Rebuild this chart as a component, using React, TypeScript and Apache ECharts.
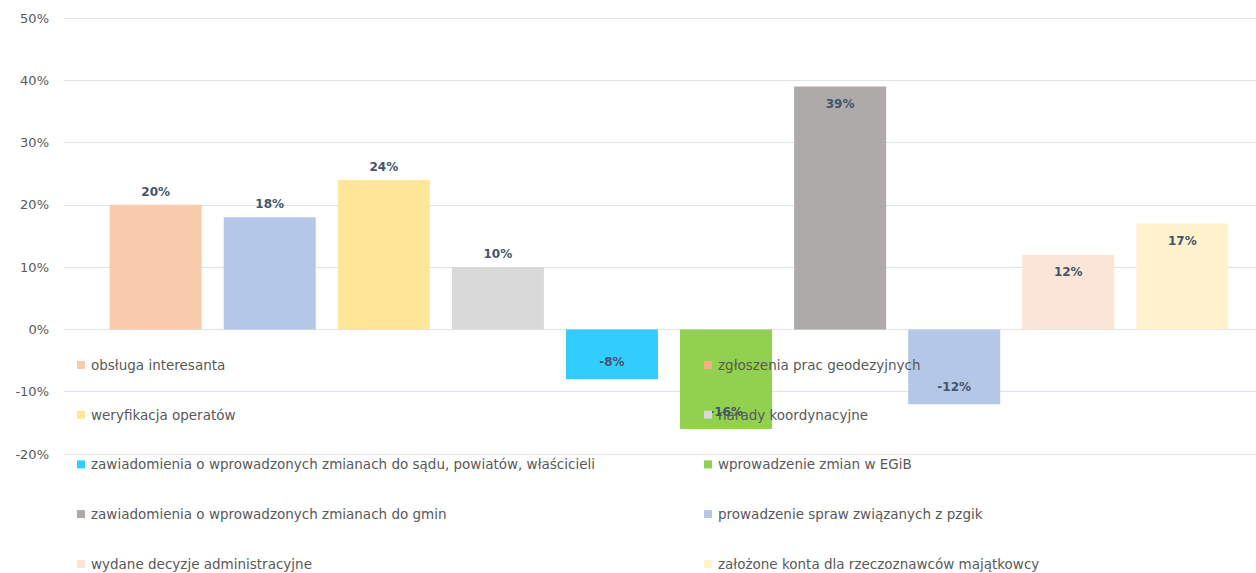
import React, { useEffect, useRef } from "react";
import * as echarts from "echarts";

const seriesNames = [
  "obsługa interesanta",
  "zgłoszenia prac geodezyjnych",
  "weryfikacja operatów",
  "narady koordynacyjne",
  "zawiadomienia o wprowadzonych zmianach do sądu, powiatów, właścicieli",
  "wprowadzenie zmian w EGiB",
  "zawiadomienia o wprowadzonych zmianach do gmin",
  "prowadzenie spraw związanych z pzgik",
  "wydane decyzje administracyjne",
  "założone konta dla rzeczoznawców majątkowcy",
];
const values = [20, 18, 24, 10, -8, -16, 39, -12, 12, 17];
const legendColors = [
  "#f8cbad", "#f4b183", "#ffe699", "#d9d9d9", "#33ccff",
  "#92d050", "#aeaaaa", "#b4c7e7", "#fbe5d6", "#fff2cc",
];
const barColors = [
  "#f8cbad", "#b4c7e7", "#ffe699", "#d9d9d9", "#33ccff",
  "#92d050", "#aeaaaa", "#b4c7e7", "#fbe5d6", "#fff2cc",
];
const labelPlacement = [
  "top", "top", "top", "top", "insideBottom",
  "insideBottom", "insideTop", "insideBottom", "insideTop", "insideTop",
];
const yTicks = { min: -20, max: 50, interval: 10 };

const FONT = "'DejaVu Sans', sans-serif";

export default function App() {
  const ref = useRef<HTMLDivElement>(null);
  useEffect(() => {
    const chart = echarts.init(ref.current!, null, { renderer: "svg" });
    const series = seriesNames.map((name, i) => ({
      name,
      type: "bar",
      xAxisIndex: 1,
      yAxisIndex: 1,
      barWidth: 92,
      barGap: "24%",
      itemStyle: { color: legendColors[i] },
      label: {
        show: true,
        position: labelPlacement[i],
        distance: labelPlacement[i] === "top" ? 7 : 11,
        formatter: "{c}%",
        color: "#44546a",
        fontFamily: FONT,
        fontWeight: "bold",
        fontSize: 12,
      },
      data: [{ value: values[i], itemStyle: { color: barColors[i] } }],
    }));
    const leftNames = seriesNames.filter((_, i) => i % 2 === 0);
    const rightNames = seriesNames.filter((_, i) => i % 2 === 1);
    const legendBase = {
      orient: "vertical",
      top: 358,
      padding: 0,
      itemWidth: 8,
      itemHeight: 8,
      itemGap: 35.7,
      icon: "rect",
      selectedMode: false,
      textStyle: {
        color: "#595959",
        fontFamily: FONT,
        fontSize: 13.5,
        lineHeight: 14,
        padding: [0, 0, 0, 1],
      },
    };
    const hiddenX = {
      type: "category",
      data: [""],
      axisLine: { show: false },
      axisTick: { show: false },
      axisLabel: { show: false },
    };
    chart.setOption({
      animation: false,
      grid: [
        { left: 64, right: 0, top: 18, bottom: 119, containLabel: false },
        { left: 82, right: 0, top: 18, bottom: 119, containLabel: false },
      ],
      legend: [
        { ...legendBase, left: 77, data: leftNames },
        { ...legendBase, left: 704, data: rightNames },
      ],
      xAxis: [
        { ...hiddenX, gridIndex: 0 },
        { ...hiddenX, gridIndex: 1 },
      ],
      yAxis: [
        {
          type: "value",
          gridIndex: 0,
          min: yTicks.min,
          max: yTicks.max,
          interval: yTicks.interval,
          axisLine: { show: false },
          axisTick: { show: false },
          axisLabel: {
            formatter: "{value}%",
            color: "#595959",
            fontFamily: FONT,
            fontSize: 13,
            margin: 15,
          },
          splitLine: { lineStyle: { color: "#dde3ea", width: 1 } },
        },
        {
          type: "value",
          gridIndex: 1,
          min: yTicks.min,
          max: yTicks.max,
          interval: yTicks.interval,
          axisLine: { show: false },
          axisTick: { show: false },
          axisLabel: { show: false },
          splitLine: { show: false },
        },
      ],
      series,
    });
    return () => chart.dispose();
  }, []);
  return (
    <div
      ref={ref}
      style={{ position: "fixed", left: 0, top: 0, width: 1256, height: 573, background: "#fff" }}
    />
  );
}
